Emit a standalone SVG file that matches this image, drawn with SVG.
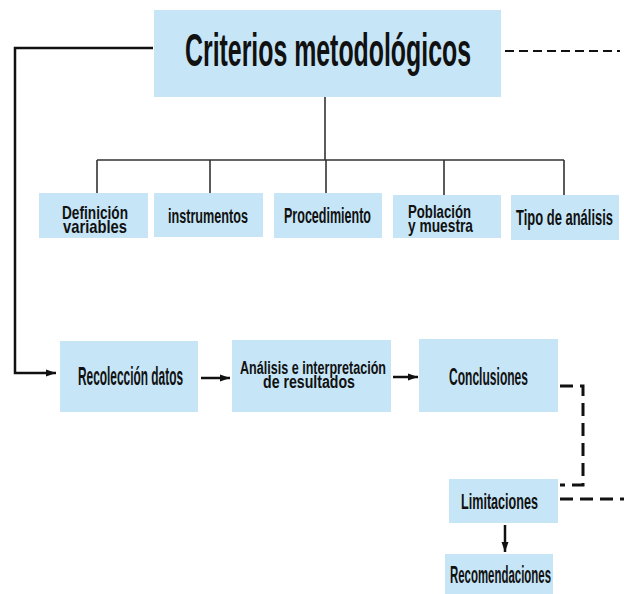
<svg xmlns="http://www.w3.org/2000/svg" width="624" height="594" viewBox="0 0 624 594">
<style>
.box{fill:#c6e6f8}
.t{font-family:"Liberation Sans","DejaVu Sans",sans-serif;font-weight:bold;fill:#111}
.ln{stroke:#111;fill:none}
.tree{stroke:#333;stroke-width:1.6;fill:none}
</style>
<defs>
<marker id="ah" viewBox="0 0 10 10" refX="10" refY="5" markerWidth="4" markerHeight="4" orient="auto" markerUnits="strokeWidth">
<path d="M0,1.5 L10,5 L0,8.5 z" fill="#111"/>
</marker>
</defs>
<rect width="624" height="594" fill="#fff"/>
<g id="connectors">
<path class="ln" stroke-width="2.5" d="M153,48 H15 V373 H56" marker-end="url(#ah)"/>
<path class="ln" stroke-width="2" stroke-dasharray="9,5" d="M505,51 H620"/>
<path class="tree" d="M325,97 V160 M97,160 H564 M97,160 V193 M210,160 V193 M326,160 V193 M444,160 V195 M564,160 V195"/>
<path class="ln" stroke-width="2.5" d="M201,378 H230" marker-end="url(#ah)"/>
<path class="ln" stroke-width="2.5" d="M393,377 H418" marker-end="url(#ah)"/>
<path class="ln" stroke-width="3" stroke-dasharray="13,7" d="M560,386 H583 V485 H560"/>
<path class="ln" stroke-width="3" stroke-dasharray="13,7" d="M560,499 H624"/>
<path class="ln" stroke-width="2.5" d="M505,525 V552" marker-end="url(#ah)"/>
</g>
<g id="criterios"><rect class="box" x="154" y="10" width="347" height="87"/><text class="t" x="185" y="66" font-size="46" textLength="286" lengthAdjust="spacingAndGlyphs">Criterios metodológicos</text></g>
<g id="definicion"><rect class="box" x="39" y="193" width="109" height="45"/><text class="t" x="62" y="219" font-size="19" textLength="66" lengthAdjust="spacingAndGlyphs">Definición</text><text class="t" x="63" y="233" font-size="19" textLength="64" lengthAdjust="spacingAndGlyphs">variables</text></g>
<g id="instrumentos"><rect class="box" x="154" y="193" width="109" height="44"/><text class="t" x="168" y="223" font-size="20" textLength="80" lengthAdjust="spacingAndGlyphs">instrumentos</text></g>
<g id="procedimiento"><rect class="box" x="274" y="193" width="108" height="45"/><text class="t" x="284" y="223" font-size="22" textLength="87" lengthAdjust="spacingAndGlyphs">Procedimiento</text></g>
<g id="poblacion"><rect class="box" x="393" y="195" width="108" height="43"/><text class="t" x="408" y="218" font-size="19" textLength="63" lengthAdjust="spacingAndGlyphs">Población</text><text class="t" x="408" y="232" font-size="19" textLength="65" lengthAdjust="spacingAndGlyphs">y muestra</text></g>
<g id="tipo"><rect class="box" x="511" y="195" width="108" height="45"/><text class="t" x="516" y="225" font-size="22" textLength="97" lengthAdjust="spacingAndGlyphs">Tipo de análisis</text></g>
<g id="recoleccion"><rect class="box" x="60" y="341" width="138" height="71"/><text class="t" x="78" y="385" font-size="25" textLength="105" lengthAdjust="spacingAndGlyphs">Recolección datos</text></g>
<g id="analisis"><rect class="box" x="232" y="340" width="159" height="72"/><text class="t" x="240" y="374" font-size="18" textLength="146" lengthAdjust="spacingAndGlyphs">Análisis e interpretación</text><text class="t" x="263" y="388" font-size="18" textLength="92" lengthAdjust="spacingAndGlyphs">de resultados</text></g>
<g id="conclusiones"><rect class="box" x="419" y="339" width="139" height="73"/><text class="t" x="449" y="385" font-size="24" textLength="79" lengthAdjust="spacingAndGlyphs">Conclusiones</text></g>
<g id="limitaciones"><rect class="box" x="449" y="479" width="109" height="44"/><text class="t" x="461" y="509" font-size="22" textLength="77" lengthAdjust="spacingAndGlyphs">Limitaciones</text></g>
<g id="recomendaciones"><rect class="box" x="445" y="554" width="108" height="40"/><text class="t" x="450" y="583" font-size="23" textLength="101" lengthAdjust="spacingAndGlyphs">Recomendaciones</text></g>
</svg>
